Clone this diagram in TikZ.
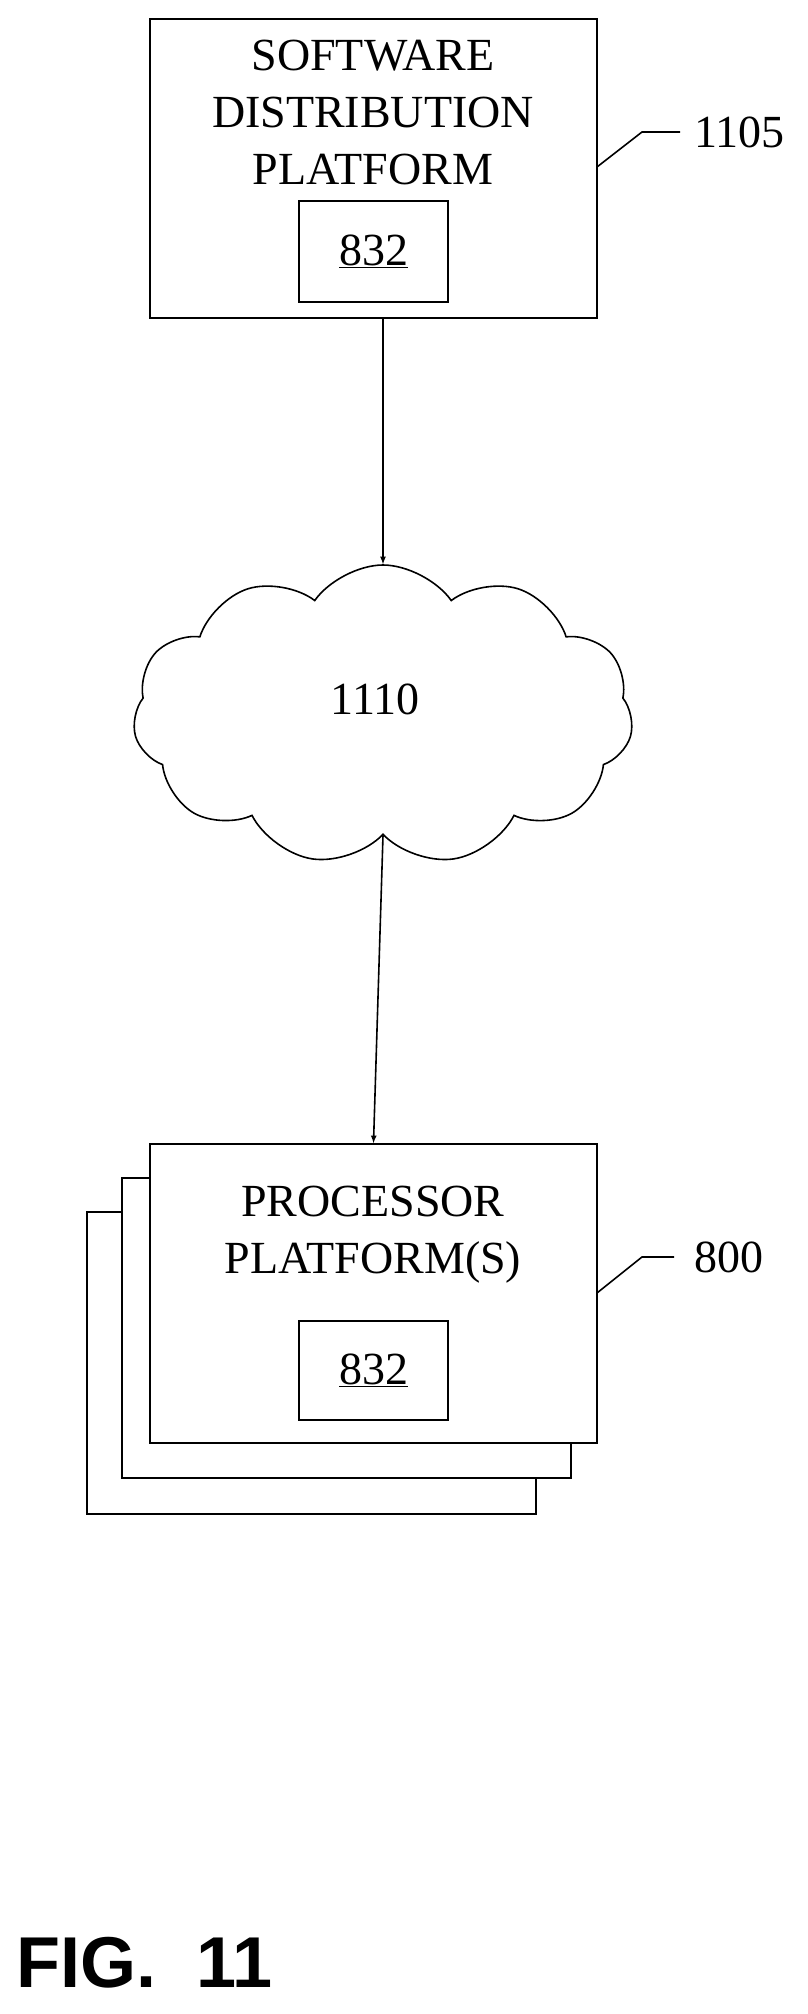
\documentclass[tikz,border=0pt]{standalone}
\usepackage{fontspec}
\setmainfont{Liberation Serif}
\newfontfamily\figfont{Liberation Sans}
\usetikzlibrary{shapes.symbols}

\begin{document}
\begin{tikzpicture}[x=1pt,y=-1pt,semithick,line width=1.6pt,>=latex,
    box/.style={draw,fill=white,inner sep=0pt},
    lbl/.style={font=\fontsize{46}{57}\selectfont}]
  \useasboundingbox (0,0) rectangle (808,2014);

  % top platform
  \node[box,minimum width=447pt,minimum height=299pt] (sdp) at (373.5,168.5) {};
  \node[lbl,align=center] (sdpt) at (373,112) {SOFTWARE\\DISTRIBUTION\\PLATFORM};
  \node[box,minimum width=149pt,minimum height=101pt,lbl] (s1) at (373.5,251.5) {\underline{832}};
  \draw (597,167) -- (642,132) -- (680,132);
  \node[lbl,anchor=west] (n1) at (690,132) {1105};

  % network
  \node[cloud,draw,cloud puffs=11,cloud puff arc=110,aspect=1.6,
        minimum width=500pt,minimum height=300pt,inner sep=0pt] (net) at (383,715) {};
  \node[lbl] (n2) at (375,699) {1110};

  % processor platforms
  \node[box,minimum width=449pt,minimum height=302pt] (p3) at (311.5,1363) {};
  \node[box,minimum width=449pt,minimum height=300pt] (p2) at (346.5,1328) {};
  \node[box,minimum width=447pt,minimum height=299pt] (pp) at (373.5,1293.5) {};
  \node[lbl,align=center] (ppt) at (373,1235) {PROCESSOR\\PLATFORM(S)};
  \node[box,minimum width=149pt,minimum height=99pt,lbl] (s2) at (373.5,1370.5) {\underline{832}};
  \draw (597,1293) -- (642,1257) -- (674,1257);
  \node[lbl,anchor=west] (n3) at (690,1257) {800};

  \draw[->] (sdp.south -| net.north) -- (net.north);
  \draw[->] (net.south) -- (pp.north);

  \node[anchor=west,font=\figfont\bfseries\fontsize{72}{80}\selectfont] (fig) at (12,1963) {FIG.\ \ 11};
\end{tikzpicture}
\end{document}
